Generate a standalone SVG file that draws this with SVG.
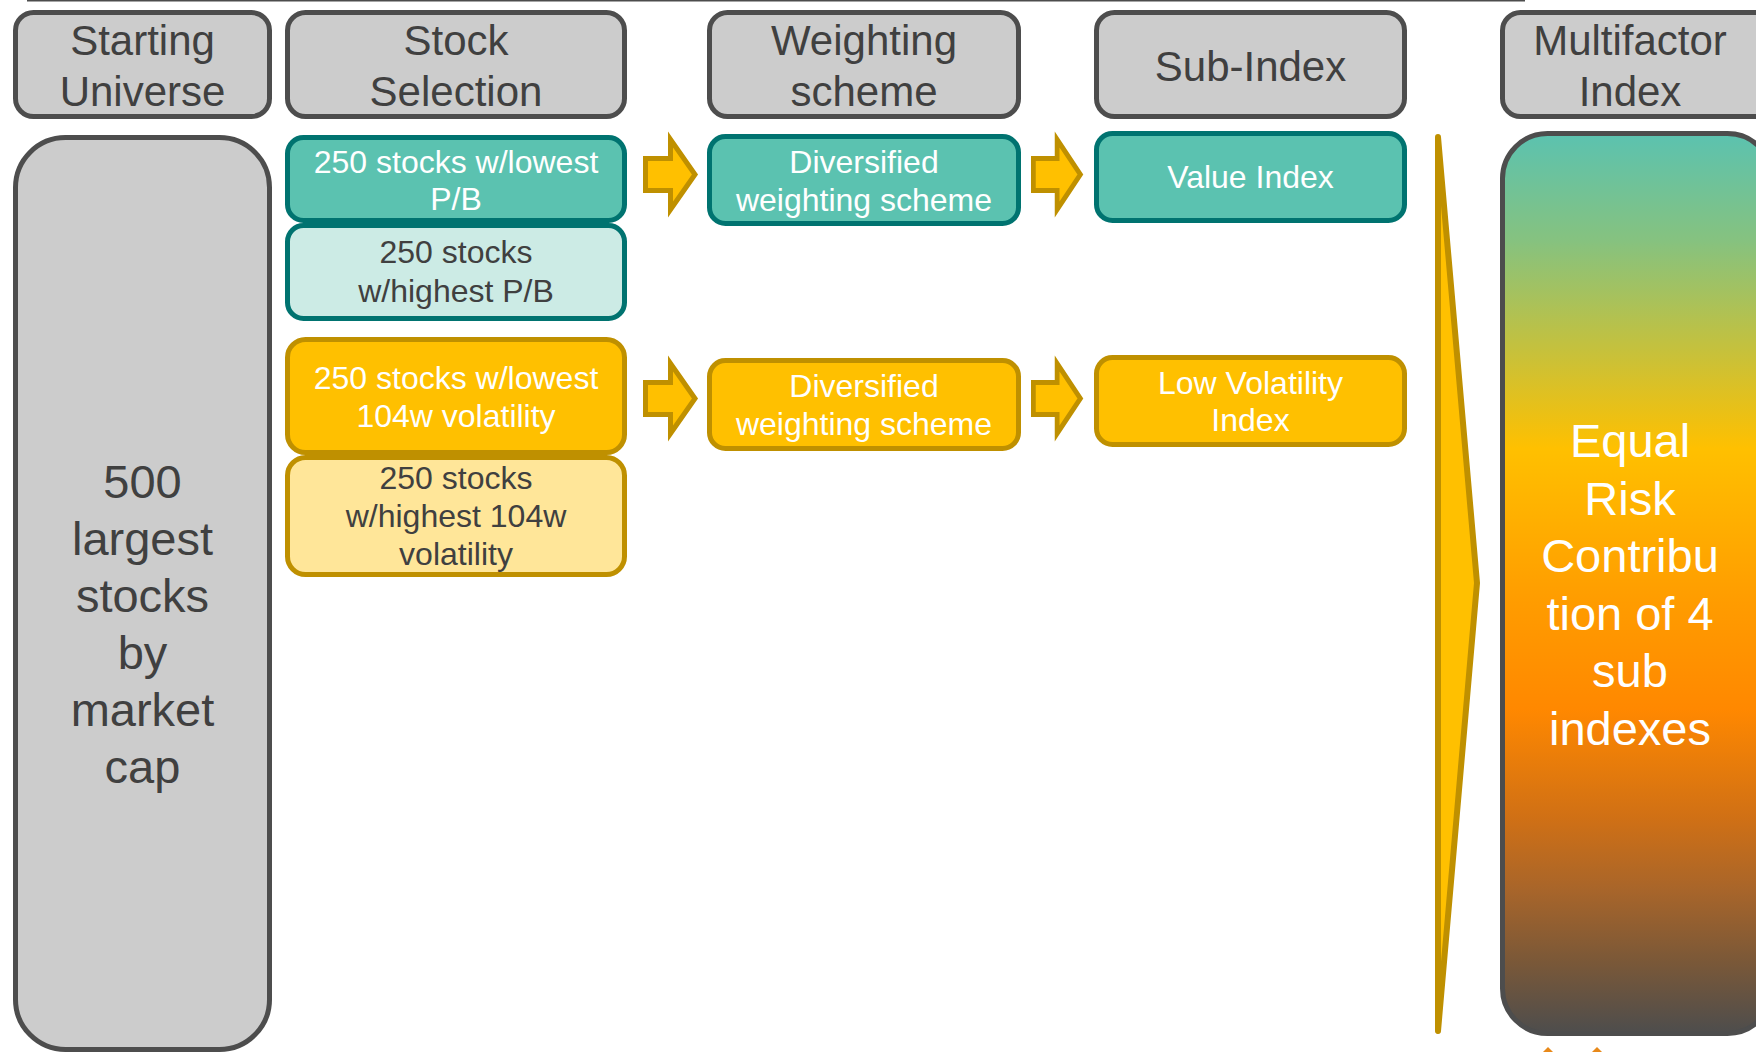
<svg xmlns="http://www.w3.org/2000/svg" width="1756" height="1052" viewBox="0 0 1756 1052">
<defs>
<style>
text{font-family:"Liberation Sans",Arial,sans-serif;text-anchor:middle}
.hdr rect{fill:#CCCCCC;stroke:#4D4D4D;stroke-width:5}
.hdr text{font-size:42px;fill:#404040}
.big{font-size:47px}
.tealD{fill:#5BC2B0;stroke:#007370;stroke-width:5}
.tealL{fill:#CCEBE5;stroke:#007370;stroke-width:5}
.yelD{fill:#FFC000;stroke:#BF9000;stroke-width:5}
.yelL{fill:#FFE699;stroke:#BF9000;stroke-width:5}
.tw{font-size:32px;fill:#FFFFFF}
.td{font-size:32px;fill:#404040}
.arrow{fill:#FFC000;stroke:#BF9000;stroke-width:5;stroke-linejoin:miter}
</style>
<path id="blk" d="M2.5,-16 L27.5,-16 L27.5,-35 L52,0 L27.5,35 L27.5,16 L2.5,16 Z"/>
<linearGradient id="grad" gradientUnits="userSpaceOnUse" x1="0" y1="133" x2="0" y2="1034">
<stop offset="0" stop-color="#5BC2B0"/>
<stop offset="0.12" stop-color="#86C27F"/>
<stop offset="0.35" stop-color="#FFC000"/>
<stop offset="0.52" stop-color="#FF9C00"/>
<stop offset="0.64" stop-color="#FF8800"/>
<stop offset="0.76" stop-color="#D07015"/>
<stop offset="0.84" stop-color="#A8652A"/>
<stop offset="0.92" stop-color="#7A5838"/>
<stop offset="1" stop-color="#4D4D4D"/>
</linearGradient>
</defs>
<rect width="1756" height="1052" fill="#FFFFFF"/>
<line x1="27" y1="0.75" x2="1525" y2="0.75" stroke="#4D4D4D" stroke-width="1.5"/>

<g id="hdr-starting" class="hdr">
<rect x="15.5" y="12.5" width="254" height="104" rx="18"/>
<text x="142.5" y="55">Starting</text>
<text x="142.5" y="106">Universe</text>
</g>
<g id="hdr-stock" class="hdr">
<rect x="287.5" y="12.5" width="337" height="104" rx="18"/>
<text x="456" y="55">Stock</text>
<text x="456" y="106">Selection</text>
</g>
<g id="hdr-weighting" class="hdr">
<rect x="709.5" y="12.5" width="309" height="104" rx="18"/>
<text x="864" y="55">Weighting</text>
<text x="864" y="106">scheme</text>
</g>
<g id="hdr-subindex" class="hdr">
<rect x="1096.5" y="12.5" width="308" height="104" rx="18"/>
<text x="1250.5" y="81">Sub-Index</text>
</g>
<g id="hdr-multifactor" class="hdr">
<rect x="1502.5" y="12.5" width="270" height="104" rx="18"/>
<text x="1630" y="55">Multifactor</text>
<text x="1630" y="106">Index</text>
</g>

<g id="universe">
<rect x="15.5" y="137.5" width="254" height="912" rx="50" fill="#CCCCCC" stroke="#4D4D4D" stroke-width="5"/>
<text class="big" fill="#404040" x="142.5" y="498">500</text>
<text class="big" fill="#404040" x="142.5" y="555">largest</text>
<text class="big" fill="#404040" x="142.5" y="612">stocks</text>
<text class="big" fill="#404040" x="142.5" y="669">by</text>
<text class="big" fill="#404040" x="142.5" y="726">market</text>
<text class="big" fill="#404040" x="142.5" y="783">cap</text>
</g>

<g id="low-pb">
<rect class="tealD" x="287.5" y="137.5" width="337" height="83" rx="16"/>
<text class="tw" x="456" y="173">250 stocks w/lowest</text>
<text class="tw" x="456" y="210">P/B</text>
</g>
<g id="high-pb">
<rect class="tealL" x="287.5" y="225.5" width="337" height="93" rx="16"/>
<text class="td" x="456" y="263">250 stocks</text>
<text class="td" x="456" y="302">w/highest P/B</text>
</g>
<g id="low-vol">
<rect class="yelD" x="287.5" y="339.5" width="337" height="113" rx="18"/>
<text class="tw" x="456" y="389">250 stocks w/lowest</text>
<text class="tw" x="456" y="427">104w volatility</text>
</g>
<g id="high-vol">
<rect class="yelL" x="287.5" y="457.5" width="337" height="117" rx="18"/>
<text class="td" x="456" y="489">250 stocks</text>
<text class="td" x="456" y="527">w/highest 104w</text>
<text class="td" x="456" y="565">volatility</text>
</g>

<g id="div-teal">
<rect class="tealD" x="709.5" y="136.5" width="309" height="87" rx="16"/>
<text class="tw" x="864" y="173">Diversified</text>
<text class="tw" x="864" y="211">weighting scheme</text>
</g>
<g id="value-index">
<rect class="tealD" x="1096.5" y="133.5" width="308" height="87" rx="16"/>
<text class="tw" x="1250.5" y="188">Value Index</text>
</g>
<g id="div-yellow">
<rect class="yelD" x="709.5" y="360.5" width="309" height="88" rx="16"/>
<text class="tw" x="864" y="397">Diversified</text>
<text class="tw" x="864" y="435">weighting scheme</text>
</g>
<g id="lowvol-index">
<rect class="yelD" x="1096.5" y="357.5" width="308" height="87" rx="16"/>
<text class="tw" x="1250.5" y="394">Low Volatility</text>
<text class="tw" x="1250.5" y="431">Index</text>
</g>

<g id="multifactor">
<rect x="1502.5" y="133.5" width="270" height="900" rx="45" fill="url(#grad)" stroke="#4D4D4D" stroke-width="5"/>
<text class="big" fill="#FFFFFF" x="1630" y="457">Equal</text>
<text class="big" fill="#FFFFFF" x="1630" y="515">Risk</text>
<text class="big" fill="#FFFFFF" x="1630" y="572">Contribu</text>
<text class="big" fill="#FFFFFF" x="1630" y="630">tion of 4</text>
<text class="big" fill="#FFFFFF" x="1630" y="687">sub</text>
<text class="big" fill="#FFFFFF" x="1630" y="745">indexes</text>
</g>

<g id="connectors">
<use href="#blk" class="arrow" transform="translate(643,174.5)"/>
<use href="#blk" class="arrow" transform="translate(1031,174.5) scale(0.95,1)"/>
<use href="#blk" class="arrow" transform="translate(643,398.5)"/>
<use href="#blk" class="arrow" transform="translate(1031,398.5) scale(0.95,1)"/>
<polygon points="1438,137 1477,583 1438,1031" fill="#FFC000" stroke="#BF9000" stroke-width="6" stroke-linejoin="round"/>
<polygon points="1543,1052 1548,1047 1553,1052" fill="#E8891A"/>
<polygon points="1592,1052 1597,1047 1602,1052" fill="#E8891A"/>
</g>
</svg>
